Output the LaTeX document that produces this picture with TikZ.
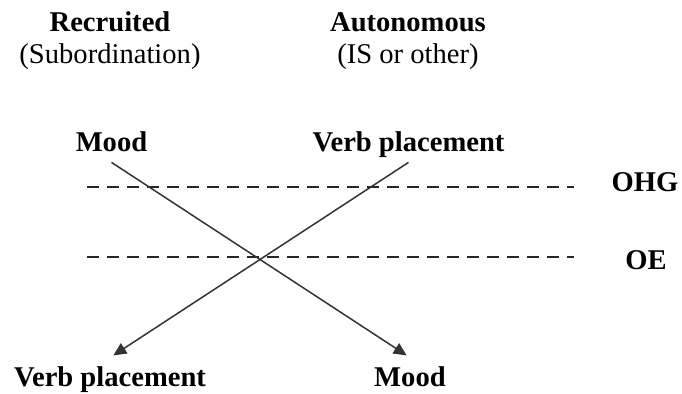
\documentclass[tikz,border=0pt]{standalone}
\usepackage{fontspec}
\setmainfont{Liberation Serif}
\usetikzlibrary{arrows.meta,positioning}
\newcommand\figsize{\fontsize{14.3}{17}\selectfont}

\begin{document}
\begin{tikzpicture}[
  x=0.5pt, y=-0.5pt,
  font=\figsize,
  head/.style={font=\figsize\bfseries, anchor=base},
  sub/.style={font=\figsize, anchor=base},
  feat/.style={head, inner ysep=5pt, text height=9.5pt, text depth=0pt},
  era/.style={dash pattern=on 6pt off 4pt, line width=0.75pt, color=black!85},
  drift/.style={-{Triangle[length=6.5pt,width=6pt]}, line width=0.75pt,
                color=black!80, shorten >=2pt}
]
  \useasboundingbox (0,0) rectangle (682,394);

  % column headings
  \node[head] (rec) at (110,32) {Recruited};
  \node[sub] (recsub) at ([yshift=-16pt]rec.base) {(Subordination)};
  \node[head] (aut) at (408,32) {Autonomous};
  \node[sub] (autsub) at ([yshift=-16pt]aut.base) {(IS or other)};

  % features before and after
  \node[feat] (moodtop) at (111.5,152) {Mood};
  \node[feat] (verbtop) at (408.5,152) {Verb placement};
  \node[feat] (verbbot) at (110,387) {Verb placement};
  \node[feat] (moodbot) at (410,387) {Mood};

  % periods
  \node[head] (ohg) at (645,192) {OHG};
  \node[head] (oe) at (646,270) {OE};
  \coordinate (ohgl) at (87,187);
  \coordinate (oel) at (87,257);
  \draw[era, shorten >=15.5pt] (ohgl) -- (ohgl -| ohg.west);
  \draw[era, shorten >=15.5pt] (oel) -- (oel -| ohg.west);

  \draw[drift] (moodtop.south) -- (moodbot.north);
  \draw[drift] (verbtop.south) -- (verbbot.north);
\end{tikzpicture}
\end{document}
